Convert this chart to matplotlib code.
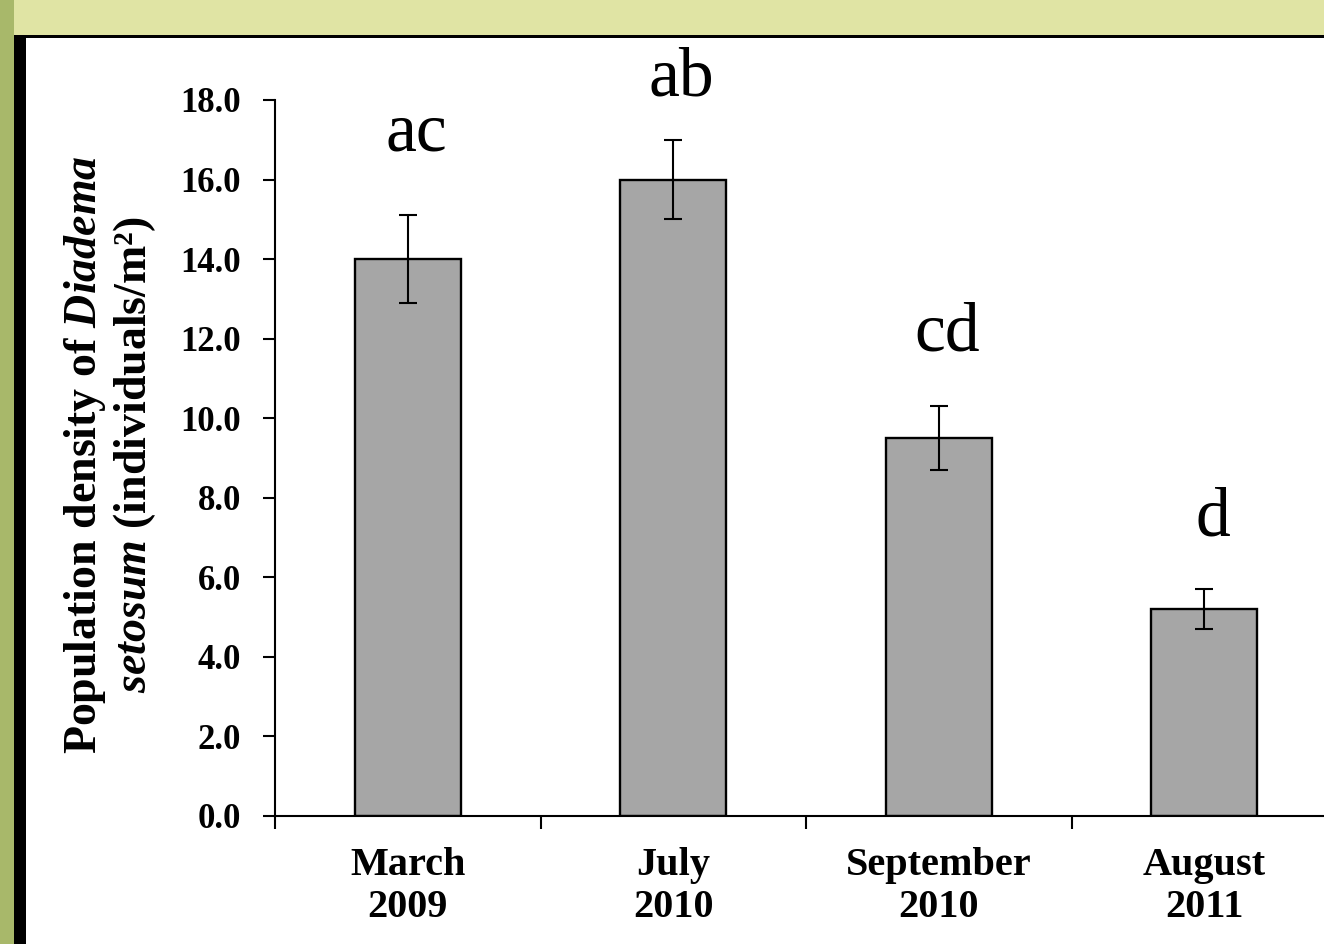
import matplotlib
matplotlib.use("Agg")
import matplotlib.pyplot as plt
from matplotlib.patches import Rectangle
import numpy as np

# Data
categories = ["March\n2009", "July\n2010", "September\n2010", "August\n2011"]
density = [14.0, 16.0, 9.5, 5.2]
std_err = [1.1, 1.0, 0.8, 0.5]
letters = ["ac", "ab", "cd", "d"]
yticks = [0, 2, 4, 6, 8, 10, 12, 14, 16, 18]

plt.rcParams['font.family'] = ['Liberation Serif', 'DejaVu Serif']
plt.rcParams['mathtext.fontset'] = 'custom'
plt.rcParams['mathtext.it'] = 'Liberation Serif:bold:italic'
plt.rcParams['mathtext.rm'] = 'Liberation Serif:bold'

W, H = 1324, 944
fig = plt.figure(figsize=(W / 100, H / 100), dpi=100)
fig.patch.set_facecolor('white')

# backdrop: photo-like strips at top and left, black frame, white panel
fig.patches.append(Rectangle((0, 0), 1, 1, transform=fig.transFigure,
                             facecolor='#e0e4a4', edgecolor='none', zorder=-5))
fig.patches.append(Rectangle((0, 0), 14 / W, 1, transform=fig.transFigure,
                             facecolor='#a8b86a', edgecolor='none', zorder=-4))
fig.patches.append(Rectangle((14 / W, 0), 1, 1 - 35 / H, transform=fig.transFigure,
                             facecolor='black', edgecolor='none', zorder=-3))
fig.patches.append(Rectangle((26 / W, 0), 1, 1 - 38 / H, transform=fig.transFigure,
                             facecolor='white', edgecolor='none', zorder=-2))

ax = fig.add_axes([275 / W, 128 / H, 1062 / W, 716 / H])
ax.patch.set_alpha(0)

x = np.arange(len(categories))
ax.bar(x, density, width=0.4, color='#a6a6a6', edgecolor='black', linewidth=1.7, zorder=2)
ax.errorbar(x, density, yerr=std_err, fmt='none', ecolor='black', elinewidth=1.5,
            capsize=6.5, capthick=1.5, zorder=3)

# significance letters, offset (px) above the error bar tops
label_offsets = [65, 44, 56, 54]
for xi, m, e, lab, off in zip(x, density, std_err, letters, label_offsets):
    ax.annotate(lab, (xi, m + e), xytext=(6, off * 0.72), textcoords='offset points',
                ha='center', va='baseline', fontsize=50, annotation_clip=False)

ax.set_xlim(-0.5, len(categories) - 0.5)
ax.set_ylim(0, 18)

ax.set_yticks(yticks)
ax.set_yticklabels([f"{v:.1f}" for v in yticks], fontsize=25, fontweight='bold')
ax.tick_params(axis='y', direction='out', length=8.5, width=1.5, pad=16)

ax.set_xticks(x)
ax.set_xticklabels(categories, fontsize=29, fontweight='bold', linespacing=1.2)
ax.tick_params(axis='x', which='major', length=0, pad=22)
ax.set_xticks(np.arange(-0.5, len(categories)), minor=True)
ax.tick_params(axis='x', which='minor', direction='out', length=9.5, width=1.5)

for s in ['top', 'right']:
    ax.spines[s].set_visible(False)
for s in ['left', 'bottom']:
    ax.spines[s].set_linewidth(1.5)

# two-line y label with italic species name
fig.text(85 / W, 1 - 455 / H, r"Population density of $Diadema$", rotation=90,
         ha='center', va='center', fontsize=33, fontweight='bold')
fig.text(135 / W, 1 - 455 / H, r"$setosum$ (individuals/m²)", rotation=90,
         ha='center', va='center', fontsize=33, fontweight='bold')

plt.savefig('out.png', dpi=100)
plt.close(fig)
